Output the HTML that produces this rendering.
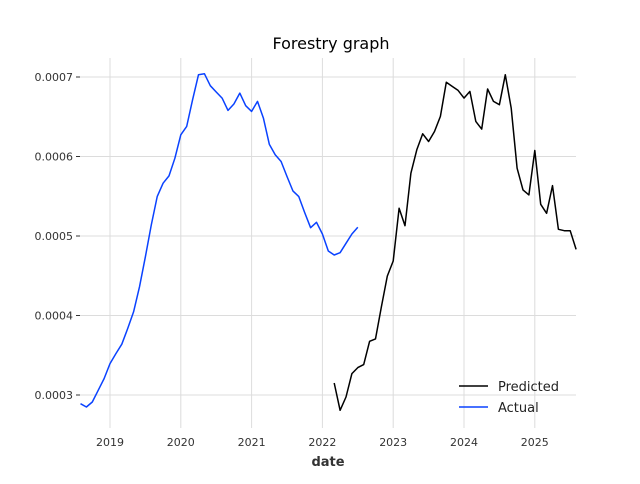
<!DOCTYPE html>
<html><head><meta charset="utf-8"><style>
body{margin:0;background:#fff;font-family:"DejaVu Sans","Liberation Sans",sans-serif}
svg text{font-family:"DejaVu Sans","Liberation Sans",sans-serif}
</style></head><body>
<svg id="chart" width="640" height="480">
<text x="331" y="49" text-anchor="middle" font-size="16" fill="#000">Forestry graph</text>
<g id="grid"></g><g id="series"></g><g id="axes"></g>
<text x="328" y="466" text-anchor="middle" font-size="13" font-weight="bold" fill="#333">date</text>
<g>
<line x1="459" y1="386" x2="488" y2="386" stroke="#000" stroke-width="1.5"/>
<text x="498" y="391" font-size="13" fill="#222">Predicted</text>
<line x1="459" y1="407" x2="488" y2="407" stroke="#0a42ff" stroke-width="1.5"/>
<text x="498" y="412" font-size="13" fill="#222">Actual</text>
</g>
</svg>
<script>
const actualStart = [2018, 8];
const actualValues = [2.891,2.849,2.912,3.059,3.206,3.395,3.521,3.639,3.836,4.046,4.361,4.739,5.139,5.496,5.664,5.756,5.979,6.273,6.378,6.714,7.029,7.042,6.891,6.811,6.735,6.580,6.660,6.798,6.639,6.567,6.693,6.483,6.155,6.021,5.937,5.748,5.567,5.496,5.294,5.105,5.172,5.025,4.811,4.761,4.790,4.908,5.025,5.109];
const predictedStart = [2022, 3];
const predictedValues = [3.151,2.807,2.975,3.269,3.345,3.382,3.676,3.706,4.109,4.496,4.685,5.349,5.130,5.790,6.084,6.286,6.189,6.315,6.504,6.933,6.882,6.832,6.735,6.819,6.441,6.345,6.849,6.693,6.651,7.029,6.609,5.853,5.580,5.517,6.076,5.399,5.286,5.634,5.084,5.067,5.067,4.832];
const yTicks = [3,4,5,6,7];
const yTickLabels = ["0.0003","0.0004","0.0005","0.0006","0.0007"];
const xTicks = [2019,2020,2021,2022,2023,2024,2025];

const X0=80, X1=576;
const xs = yr => 110 + (yr-2019)*70.8;
const ys = v => 395 - (v-3)*79.5;
const NS="http://www.w3.org/2000/svg";
function mk(tag, attrs, parent){const e=document.createElementNS(NS,tag);for(const k in attrs)e.setAttribute(k,attrs[k]);parent.appendChild(e);return e;}
const grid=document.getElementById('grid'), axes=document.getElementById('axes'), series=document.getElementById('series');
yTicks.forEach((t,i)=>{
  const y=ys(t);
  const g=mk('line',{x1:X0,x2:X1,y1:y,y2:y,stroke:'#dcdcdc','stroke-width':1},grid);
  
  
  const tk=mk('line',{x1:76,x2:80,y1:y,y2:y,stroke:'#333','stroke-width':1},axes);
  
  
  const tx=mk('text',{x:73,y:y+4,'text-anchor':'end','font-size':11,fill:'#333'},axes);
  tx.textContent=yTickLabels[i];
  
  
});
xTicks.forEach(t=>{
  const x=xs(t);
  const g=mk('line',{x1:x,x2:x,y1:58,y2:428,stroke:'#dcdcdc','stroke-width':1},grid);
  
  
  const tx=mk('text',{x:x,y:446,'text-anchor':'middle','font-size':11,fill:'#333'},axes);
  tx.textContent=t;
  
  
});
function line(start, vals, color, name){
  const pts=vals.map((v,i)=>{const yr=start[0]+(start[1]-1+i)/12;return xs(yr).toFixed(1)+','+ys(v).toFixed(1);}).join(' ');
  const p=mk('polyline',{points:pts,fill:'none',stroke:color,'stroke-width':1.5,'stroke-linejoin':'round'},series);
  
  
}
line(actualStart, actualValues, '#0a42ff', 'actual-line');
line(predictedStart, predictedValues, '#000', 'predicted-line');
</script>
</body></html>
